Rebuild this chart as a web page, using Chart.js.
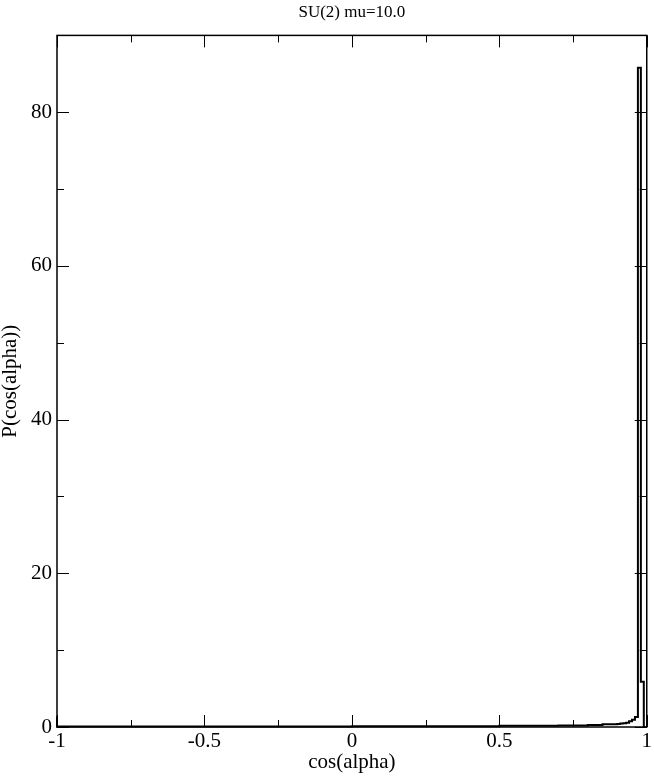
<!DOCTYPE html>
<html>
<head>
<meta charset="utf-8">
<script src="https://cdn.jsdelivr.net/npm/chart.js@4"></script>
<style>
  body { margin: 0; background: #fff; }
  canvas { display: block; }
</style>
</head>
<body>
<canvas id="graph" width="654" height="779"></canvas>
<script>
// histogram bins: left edges (last entry closes the final bin) and heights
var binEdges = [-1, -0.99, -0.5, 0, 0.5, 0.7, 0.8, 0.85, 0.9, 0.91, 0.92, 0.93, 0.94, 0.95, 0.96, 0.97, 0.98, 0.99, 0.996];
var binValues = [1.4, 0.05, 0.05, 0.07, 0.1, 0.15, 0.2, 0.25, 0.35, 0.4, 0.45, 0.5, 0.55, 0.75, 0.95, 1.3, 85.8, 5.9];

var xMajor = [-1, -0.5, 0, 0.5, 1];
var xMinor = [-0.75, -0.25, 0.25, 0.75];
var yMajor = [0, 20, 40, 60, 80];
var yMinor = [10, 30, 50, 70];

var titleText = 'SU(2) mu=10.0';
var xTitle = 'cos(alpha)';
var yTitle = 'P(cos(alpha))';

// step outline points
var points = [{ x: binEdges[0], y: 0 }];
for (var i = 0; i < binValues.length; i++) {
    points.push({ x: binEdges[i], y: binValues[i] });
}
points.push({ x: binEdges[binEdges.length - 1], y: 0 });

var serif = "'Liberation Serif', 'DejaVu Serif', serif";

// frame with inward ticks, like the original plot
var framePlugin = {
    id: 'frame',
    afterDraw: function (chart) {
        var c = chart.ctx;
        var a = chart.chartArea;
        var xs = chart.scales.x;
        var ys = chart.scales.y;
        c.save();
        c.strokeStyle = '#000';
        c.lineWidth = 1.5;
        c.strokeRect(a.left, a.top, a.right - a.left, a.bottom - a.top);
        c.lineWidth = 1;
        c.beginPath();
        var tick = function (list, len) {
            list.forEach(function (v) {
                var px = Math.round(xs.getPixelForValue(v)) + 0.5;
                c.moveTo(px, a.bottom); c.lineTo(px, a.bottom - len);
                c.moveTo(px, a.top); c.lineTo(px, a.top + len);
            });
        };
        var ytick = function (list, len) {
            list.forEach(function (v) {
                var py = Math.round(ys.getPixelForValue(v)) + 0.5;
                c.moveTo(a.left, py); c.lineTo(a.left + len, py);
                c.moveTo(a.right, py); c.lineTo(a.right - len, py);
            });
        };
        tick(xMajor, 12);
        tick(xMinor, 7);
        ytick(yMajor, 12);
        ytick(yMinor, 7);
        c.stroke();
        c.restore();
    }
};

var ctx = document.getElementById('graph').getContext('2d');
var myChart = new Chart(ctx, {
    type: 'line',
    data: {
        datasets: [{
            data: points,
            stepped: 'after',
            borderColor: '#000',
            borderWidth: 2,
            pointRadius: 0,
            fill: false,
            clip: false
        }]
    },
    options: {
        responsive: false,
        animation: false,
        layout: {
            padding: { left: 0, right: 7, top: 0, bottom: 0 }
        },
        plugins: {
            legend: { display: false },
            tooltip: { enabled: false },
            title: {
                display: true,
                fullSize: false,
                text: titleText,
                color: '#000',
                font: { family: serif, size: 17, weight: 'normal', lineHeight: 1.2 },
                padding: { top: 2, bottom: 13 }
            }
        },
        scales: {
            x: {
                type: 'linear',
                min: -1,
                max: 1,
                afterBuildTicks: function (scale) {
                    scale.ticks = xMajor.map(function (v) { return { value: v }; });
                },
                afterFit: function (scale) { scale.height = 52; },
                ticks: {
                    color: '#000',
                    autoSkip: false,
                    maxRotation: 0,
                    padding: 2,
                    font: { family: serif, size: 21 },
                    callback: function (v) { return String(v); }
                },
                grid: { display: false, drawTicks: false },
                border: { display: false },
                title: {
                    display: true,
                    text: xTitle,
                    color: '#000',
                    font: { family: serif, size: 21, lineHeight: 1 },
                    padding: { top: 0, bottom: 6 }
                }
            },
            y: {
                type: 'linear',
                min: 0,
                max: 90,
                afterBuildTicks: function (scale) {
                    scale.ticks = yMajor.map(function (v) { return { value: v }; });
                },
                afterFit: function (scale) { scale.width = 57; },
                ticks: {
                    color: '#000',
                    autoSkip: false,
                    padding: 5,
                    font: { family: serif, size: 21 }
                },
                grid: { display: false, drawTicks: false },
                border: { display: false },
                title: {
                    display: true,
                    text: yTitle,
                    color: '#000',
                    font: { family: serif, size: 21, lineHeight: 1 },
                    padding: { top: 0, bottom: 0 }
                }
            }
        }
    },
    plugins: [framePlugin]
});
</script>
</body>
</html>
